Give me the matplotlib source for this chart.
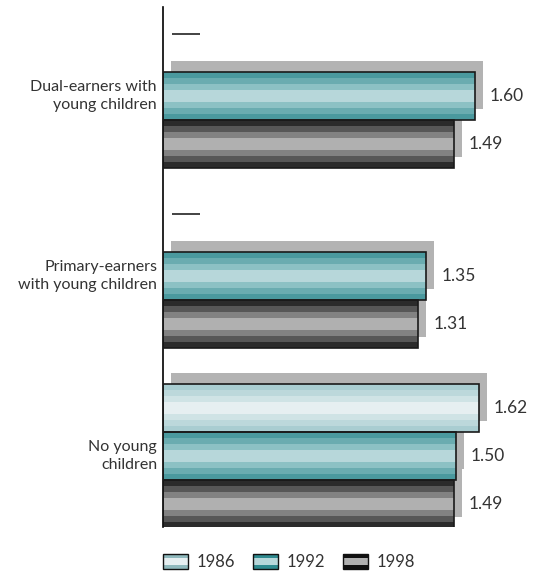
import matplotlib

matplotlib.use("Agg")
import matplotlib.pyplot as plt
from matplotlib.legend_handler import HandlerBase
from matplotlib.patches import Rectangle

plt.rcParams["font.family"] = ["Lato", "DejaVu Sans"]

# data
groups = ["Dual-earners with\nyoung children",
          "Primary-earners\nwith young children",
          "No young\nchildren"]
years = ["1986", "1992", "1998"]
values_1986 = [None, None, 1.62]
values_1992 = [1.60, 1.35, 1.50]
values_1998 = [1.49, 1.31, 1.49]
series = [values_1986, values_1992, values_1998]

# stripe palettes, outer -> centre
PALETTES = [
    ["#a9cdd1", "#bcd8db", "#cfe3e5", "#e6eff1"],
    ["#4a999e", "#6aacb0", "#8cc1c4", "#b7d7da"],
    ["#2b2b2b", "#575757", "#828282", "#b0b0b0"],
]
LEGEND_OUTER = ["#8fb9bd", "#2f8a8f", "#111111"]
TEXT = "#333333"
SHADOW = "#b3b3b3"

PX_X = 195.0          # pixels per unit value
SLOT = 48.0           # pixels per bar slot
GROUP_PITCH = 3.75    # in slots
SH_DX = 8 / PX_X
SH_DY = -11 / SLOT


def stripes(pal):
    # symmetric bands, centre band twice as tall
    cols = pal[:-1] + [pal[-1], pal[-1]] + pal[-2::-1]
    return cols


class StripeHandler(HandlerBase):
    def __init__(self, outer, centre):
        super().__init__()
        self.outer = outer
        self.centre = centre

    def create_artists(self, legend, orig_handle, xdescent, ydescent,
                       width, height, fontsize, trans):
        x0, y0 = -xdescent, -ydescent
        base = Rectangle((x0, y0), width, height, facecolor=self.outer,
                         edgecolor="none", transform=trans)
        mid = Rectangle((x0, y0 + height * 0.25), width, height * 0.5,
                        facecolor=self.centre, edgecolor="none", transform=trans)
        edge = Rectangle((x0, y0), width, height, fill=False,
                         edgecolor="#111111", lw=1.0, transform=trans)
        return [base, mid, edge]


fig = plt.figure(figsize=(5.38, 5.73), dpi=100)
W, H = 538.0, 573.0
ax_top_px, ax_bot_px, ax_left_px = 7.0, 527.0, 163.0
ax = fig.add_axes([ax_left_px / W, 1 - ax_bot_px / H,
                   1 - ax_left_px / W, (ax_bot_px - ax_top_px) / H])

for g, label in enumerate(groups):
    for s, vals in enumerate(series):
        c = 1.0 + GROUP_PITCH * g + s
        v = vals[g]
        if v is None:
            ax.hlines(c - 0.3, 9 / PX_X, 37 / PX_X, color="#222222", lw=1.2)
            continue
        ax.barh(c + SH_DY, v, left=SH_DX, height=1.0, color=SHADOW,
                lw=0, zorder=1)
        cols = stripes(PALETTES[s])
        n = len(cols)
        for i, col in enumerate(cols):
            yc = c - 0.5 + (i + 0.5) / n
            ax.barh(yc, v, height=1.0 / n + 0.002, color=col, lw=0, zorder=2)
        ax.barh(c, v, height=1.0, fill=False, edgecolor="#1a1a1a",
                lw=1.2, zorder=3)
        ax.annotate(f"{v:.2f}", (v + SH_DX, c), xytext=(5, 0),
                    textcoords="offset points", va="center", ha="left",
                    fontsize=12.5, color=TEXT)
    ax.text(-6 / PX_X, 1.0 + GROUP_PITCH * g + 1, label, ha="right",
            va="center", fontsize=11.5, color=TEXT, linespacing=1.45)

ax.set_xlim(0, (W - ax_left_px) / PX_X)
ax.set_ylim(ax_bot_px / SLOT, ax_top_px / SLOT)
for side in ["top", "right", "bottom"]:
    ax.spines[side].set_visible(False)
ax.spines["left"].set_linewidth(1.2)
ax.set_xticks([])
ax.set_yticks([])
ax.patch.set_alpha(0)

handles = [Rectangle((0, 0), 1, 1) for _ in years]
handler_map = {h: StripeHandler(LEGEND_OUTER[i], PALETTES[i][-1])
               for i, h in enumerate(handles)}
fig.legend(handles, years, handler_map=handler_map, loc="center left",
           bbox_to_anchor=(ax_left_px / W, 1 - 562 / H), ncol=3,
           frameon=False, fontsize=12, handlelength=1.5, handleheight=1.0,
           handletextpad=0.5, columnspacing=1.1, borderpad=0,
           borderaxespad=0, labelcolor=TEXT)

fig.savefig("out.png", dpi=100)
